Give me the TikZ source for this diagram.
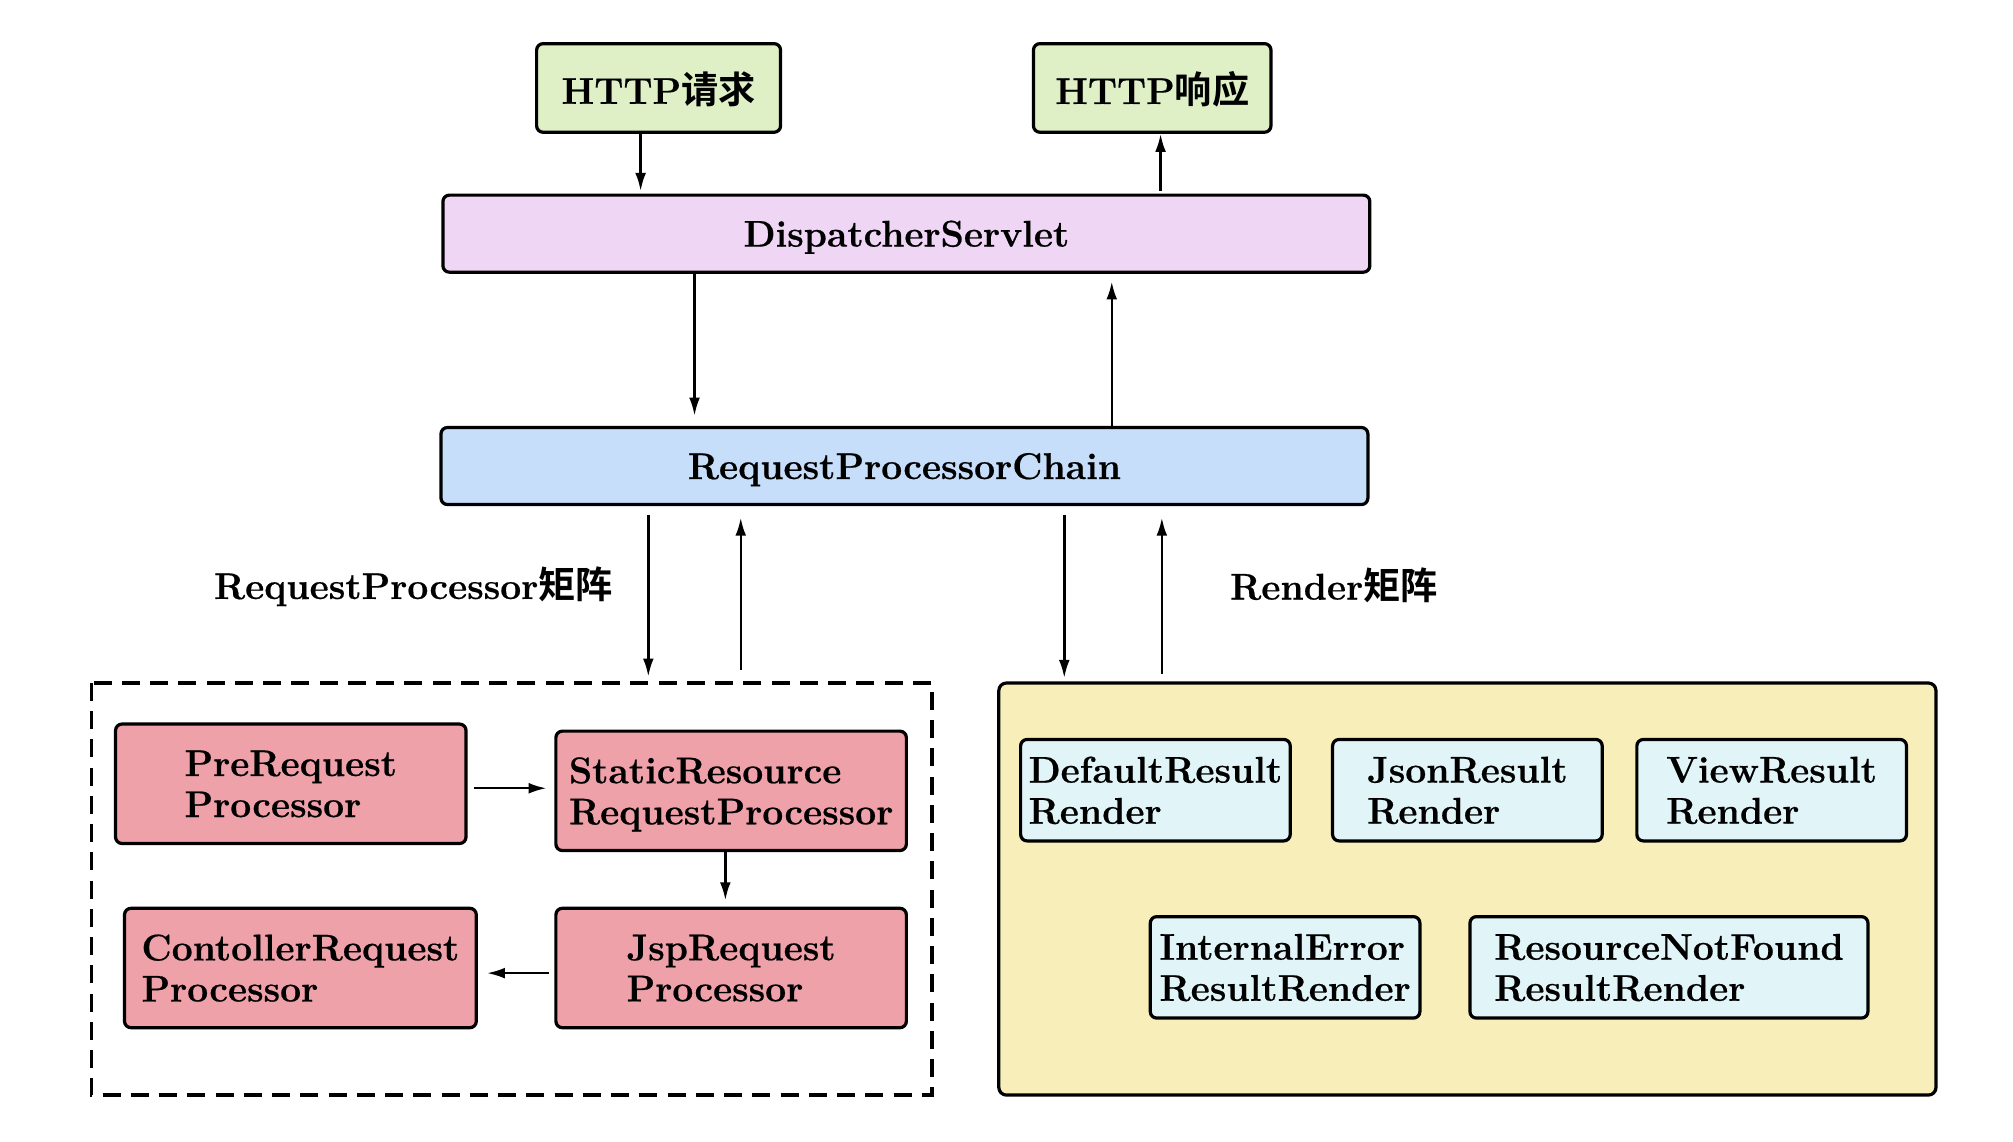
\documentclass[tikz,border=0pt]{standalone}
\usepackage{fontspec}
\setmainfont{Latin Modern Roman}[BoldFeatures={FakeBold=0.5}]
\newfontfamily\cjk{Noto Sans CJK SC}[BoldFont={Noto Sans CJK SC Bold}]
\usetikzlibrary{arrows.meta,calc}
\definecolor{cgreen}{RGB}{224,240,198}
\definecolor{clilac}{RGB}{240,214,245}
\definecolor{cblue}{RGB}{198,222,250}
\definecolor{cred}{RGB}{239,161,170}
\definecolor{cyel}{RGB}{247,238,186}
\definecolor{ccyan}{RGB}{225,245,248}
\tikzset{
  txt/.style={font=\fontsize{14.5}{16}\selectfont\bfseries, align=left, inner sep=0pt},
  box/.style={txt, draw=black, line width=1.25pt, rounded corners=2.5pt, text depth=0pt},
  greenbox/.style={box, fill=cgreen, minimum height=34.5pt},
  mainbox/.style={box, minimum width=361pt, minimum height=30pt},
  procbox/.style={box, fill=cred, minimum width=136.5pt, minimum height=46.5pt},
  rendbox/.style={box, fill=ccyan, minimum width=105pt, minimum height=39.5pt},
  arr/.style={-{Latex[length=7pt,width=4.2pt]}, line width=0.95pt},
}
\begin{document}
\begin{tikzpicture}[x=0.5pt, y=-0.5pt]
\useasboundingbox[fill=white] (0,0) rectangle (1568,889);

% top
\node[greenbox, minimum width=95pt] (req) at (513,68.5) {HTTP{\cjk 请求}};
\node[greenbox, minimum width=92.5pt] (resp) at (897.5,68.5) {HTTP{\cjk 响应}};
\node[mainbox, fill=clilac] (ds) at (706,182) {DispatcherServlet};
\node[mainbox, fill=cblue] (rpc) at (704.5,363) {RequestProcessorChain};

% containers
\draw[line width=1.25pt, dash pattern=on 7pt off 4pt] (71,532) rectangle (726,853);
\coordinate (dbtop) at (400,532);
\draw[line width=1.25pt, fill=cyel, rounded corners=3pt] (778,532) rectangle (1508,853);
\coordinate (ybtop) at (1100,532);

% processors
\node[procbox] (pre) at (226.5,610.5) {PreRequest\\Processor};
\node[procbox] (stat) at (569.5,616) {StaticResource\\RequestProcessor};
\node[procbox, minimum width=137pt] (ctrl) at (234,754) {ContollerRequest\\Processor};
\node[procbox] (jsp) at (569.5,754) {JspRequest\\Processor};

% renders
\node[rendbox] (def) at (900,615.5) {DefaultResult\\Render};
\node[rendbox] (json) at (1143,615.5) {JsonResult\\Render};
\node[rendbox] (view) at (1380,615.5) {ViewResult\\Render};
\node[rendbox] (ierr) at (1001,753.5) {InternalError\\ResultRender};
\node[rendbox, minimum width=155pt] (rnf) at (1300,753.5) {ResourceNotFound\\ResultRender};

% labels
\node[txt] (lab1) at (322,457) {RequestProcessor{\cjk 矩阵}};
\node[txt] (lab2) at (1039,456) {Render{\cjk 矩阵}};

% x positions
\coordinate (xa) at (499,0);
\coordinate (xb) at (904,0);
\coordinate (xc) at (541,0);
\coordinate (xd) at (866,0);
\coordinate (xe) at (505,0);
\coordinate (xf) at (577,0);
\coordinate (xg) at (829,0);
\coordinate (xh) at (905,0);
\coordinate (xi) at (565,0);
\coordinate (ya) at (0,614);
\coordinate (yb) at (0,758);

% connectors
\draw[arr, shorten >=1pt] (req.south -| xa) -- (ds.north -| xa);
\draw[arr, shorten <=1pt] (ds.north -| xb) -- (resp.south -| xb);
\draw[arr, shorten >=4pt] (ds.south -| xc) -- (rpc.north -| xc);
\draw[arr, shorten >=3pt] (rpc.north -| xd) -- (ds.south -| xd);
\draw[arr, shorten <=3.5pt, shorten >=2.5pt] (rpc.south -| xe) -- (dbtop -| xe);
\draw[arr, shorten <=5pt, shorten >=4.5pt] (dbtop -| xf) -- (rpc.south -| xf);
\draw[arr, shorten <=3.5pt, shorten >=2pt] (rpc.south -| xg) -- (ybtop -| xg);
\draw[arr, shorten <=3.5pt, shorten >=4.5pt] (ybtop -| xh) -- (rpc.south -| xh);
\draw[arr, shorten <=2.5pt, shorten >=3pt] (pre.east |- ya) -- (stat.west |- ya);
\draw[arr, shorten >=2.5pt] (stat.south -| xi) -- (jsp.north -| xi);
\draw[arr, shorten <=2pt, shorten >=3.5pt] (jsp.west |- yb) -- (ctrl.east |- yb);
\end{tikzpicture}
\end{document}
